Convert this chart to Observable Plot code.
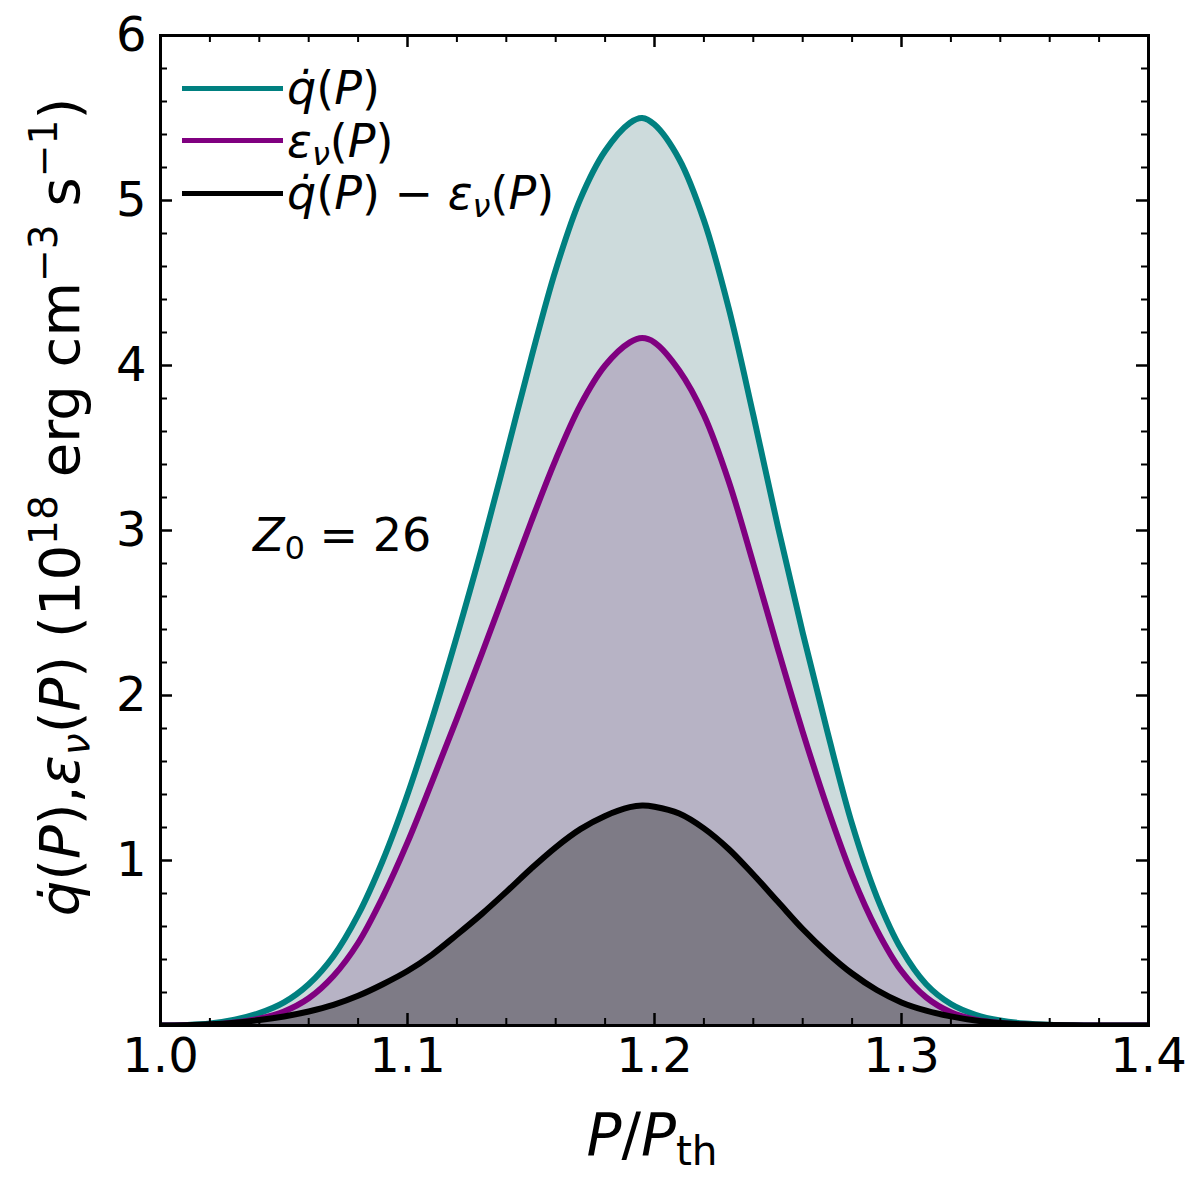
<!DOCTYPE html>
<html>
<head>
<meta charset="utf-8">
<script src="https://cdn.jsdelivr.net/npm/d3@7"></script>
<script src="https://cdn.jsdelivr.net/npm/@observablehq/plot@0.6"></script>
<style>
  body { margin: 0; background: #fff; }
  #chart { position: relative; width: 1200px; height: 1190px; font-family: "DejaVu Sans", sans-serif; color: #000; }
  .ov { position: absolute; white-space: nowrap; line-height: 1; }
  .ov sub, .ov sup { font-size: 0.7em; line-height: 0; }
  .ov sub { vertical-align: -0.25em; }
  .ov sup { vertical-align: 0.55em; }
  .legend { left: 182px; top: 62px; font-size: 46px; }
  .legend .row { display: flex; align-items: center; height: 52.5px; }
  .legend .swatch { width: 101px; height: 0; border-top: 5px solid; margin-right: 4px; }
</style>
</head>
<body>
<div id="chart"></div>
<script>
// P / P_th sample points
const pressure = [1.00, 1.01, 1.02, 1.03, 1.04, 1.05, 1.06, 1.07, 1.08, 1.09,
  1.10, 1.11, 1.12, 1.13, 1.14, 1.15, 1.16, 1.17, 1.18, 1.19, 1.195,
  1.20, 1.21, 1.22, 1.23, 1.24, 1.25, 1.26, 1.27, 1.28, 1.29,
  1.30, 1.31, 1.32, 1.33, 1.34, 1.35, 1.36, 1.37, 1.38, 1.39, 1.40]
// qdot(P), 1e18 erg cm^-3 s^-1
const qdot = [0, 0.003, 0.012, 0.035, 0.075, 0.14, 0.25, 0.42, 0.67, 1.00,
  1.40, 1.86, 2.36, 2.89, 3.46, 4.04, 4.58, 5.01, 5.30, 5.47, 5.50,
  5.46, 5.25, 4.88, 4.35, 3.70, 3.02, 2.38, 1.78, 1.22, 0.78,
  0.46, 0.25, 0.13, 0.065, 0.03, 0.012, 0.004, 0.001, 0, 0, 0]
// epsilon_nu(P)
const emissivity = [0, 0.001, 0.005, 0.018, 0.042, 0.085, 0.165, 0.30, 0.50, 0.78,
  1.11, 1.48, 1.86, 2.25, 2.65, 3.05, 3.43, 3.76, 4.00, 4.14, 4.166,
  4.14, 3.97, 3.70, 3.30, 2.80, 2.28, 1.78, 1.32, 0.91, 0.58,
  0.33, 0.17, 0.08, 0.035, 0.015, 0.005, 0.001, 0, 0, 0, 0]
// qdot - epsilon_nu
const netHeating = [0, 0.002, 0.007, 0.017, 0.033, 0.055, 0.085, 0.125, 0.18, 0.25,
  0.33, 0.43, 0.55, 0.675, 0.81, 0.95, 1.08, 1.19, 1.27, 1.323, 1.333,
  1.326, 1.285, 1.195, 1.07, 0.915, 0.75, 0.585, 0.44, 0.315, 0.215,
  0.14, 0.09, 0.055, 0.03, 0.015, 0.007, 0.003, 0.001, 0, 0, 0]

const xMajor = [1.0, 1.1, 1.2, 1.3, 1.4]
const xMinor = [1.02, 1.04, 1.06, 1.08, 1.12, 1.14, 1.16, 1.18, 1.22, 1.24, 1.26, 1.28, 1.32, 1.34, 1.36, 1.38]
const yMajor = [0, 1, 2, 3, 4, 5, 6]
const yLabels = [1, 2, 3, 4, 5, 6]
const yMinor = [0.2, 0.4, 0.6, 0.8, 1.2, 1.4, 1.6, 1.8, 2.2, 2.4, 2.6, 2.8, 3.2, 3.4, 3.6, 3.8,
  4.2, 4.4, 4.6, 4.8, 5.2, 5.4, 5.6, 5.8]

const rows = pressure.map((p, i) => ({p, q: qdot[i], e: emissivity[i], d: netHeating[i]}))

const W = 1200, H = 1190
const mL = 160, mR = 52, mT = 35, mB = 165
const innerW = W - mL - mR, innerH = H - mT - mB
const major = 12, minor = 7
const curve = "catmull-rom"

function drawChart() {
  const plot = Plot.plot({
    width: W,
    height: H,
    marginLeft: mL,
    marginRight: mR,
    marginTop: mT,
    marginBottom: mB,
    style: {fontFamily: "DejaVu Sans, sans-serif", fontSize: "48px", color: "#000", background: "#fff"},
    x: {domain: [1.0, 1.4], axis: null},
    y: {domain: [0, 6], axis: null},
    marks: [
      Plot.areaY(rows, {x: "p", y: "q", fill: "#cddbdc", curve, clip: true}),
      Plot.areaY(rows, {x: "p", y: "e", fill: "#b7b3c5", curve, clip: true}),
      Plot.areaY(rows, {x: "p", y: "d", fill: "#7e7b86", curve, clip: true}),
      Plot.line(rows, {x: "p", y: "q", stroke: "#008080", strokeWidth: 6, curve, clip: true}),
      Plot.line(rows, {x: "p", y: "e", stroke: "#800080", strokeWidth: 6, curve, clip: true}),
      Plot.line(rows, {x: "p", y: "d", stroke: "#000", strokeWidth: 6, curve, clip: true}),
      // inward ticks on all four sides
      Plot.tickX(xMajor, {x: d => d, insetTop: innerH - major, strokeWidth: 2.5}),
      Plot.tickX(xMajor, {x: d => d, insetBottom: innerH - major, strokeWidth: 2.5}),
      Plot.tickX(xMinor, {x: d => d, insetTop: innerH - minor, strokeWidth: 2}),
      Plot.tickX(xMinor, {x: d => d, insetBottom: innerH - minor, strokeWidth: 2}),
      Plot.tickY(yMajor, {y: d => d, insetRight: innerW - major, strokeWidth: 2.5}),
      Plot.tickY(yMajor, {y: d => d, insetLeft: innerW - major, strokeWidth: 2.5}),
      Plot.tickY(yMinor, {y: d => d, insetRight: innerW - minor, strokeWidth: 2}),
      Plot.tickY(yMinor, {y: d => d, insetLeft: innerW - minor, strokeWidth: 2}),
      Plot.axisX({ticks: xMajor, tickSize: 0, tickPadding: 12, tickFormat: d3.format(".1f"), label: null}),
      Plot.axisY({ticks: yLabels, tickSize: 0, tickPadding: 14, tickFormat: d3.format("d"), label: null}),
      Plot.frame({stroke: "#000", strokeWidth: 3})
    ]
  })
  const div = document.querySelector("#chart")
  div.innerText = ''
  div.append(plot)

  // legend, labels and annotation as rich text on top
  div.insertAdjacentHTML("beforeend", `
    <div class="ov legend">
      <div class="row"><span class="swatch" style="border-color:#008080"></span><span><i>q̇</i>(<i>P</i>)</span></div>
      <div class="row"><span class="swatch" style="border-color:#800080"></span><span><i>ε</i><sub><i>ν</i></sub>(<i>P</i>)</span></div>
      <div class="row"><span class="swatch" style="border-color:#000"></span><span><i>q̇</i>(<i>P</i>) − <i>ε</i><sub><i>ν</i></sub>(<i>P</i>)</span></div>
    </div>
    <div class="ov" style="left:253px; top:535px; transform:translateY(-50%); font-size:46px;"><i>Z</i><sub>0</sub> = 26</div>
    <div class="ov" style="left:652px; top:1135px; transform:translate(-50%,-50%); font-size:58px;"><i>P</i>/<i>P</i><sub>th</sub></div>
    <div class="ov" style="left:60px; top:507px; transform:translate(-50%,-50%) rotate(-90deg); font-size:56px;"><i>q̇</i>(<i>P</i>),<i>ε</i><sub><i>ν</i></sub>(<i>P</i>) (10<sup>18</sup> erg cm<sup>−3</sup> s<sup>−1</sup>)</div>
  `)
}
drawChart()
</script>
</body>
</html>
